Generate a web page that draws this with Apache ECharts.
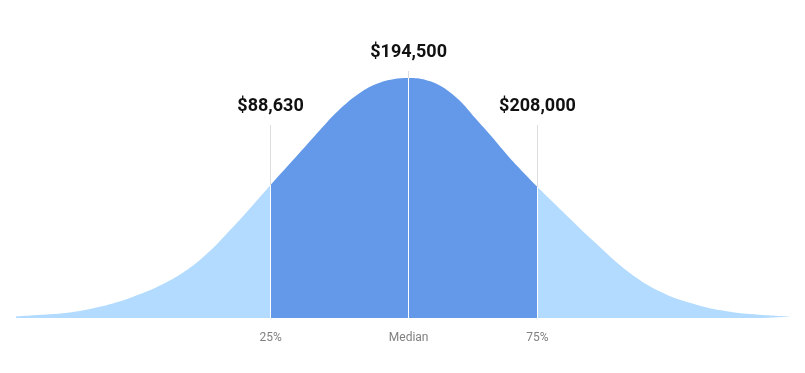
<!DOCTYPE html>
<html>
<head>
<meta charset="utf-8">
<script src="https://cdn.jsdelivr.net/npm/echarts@6/dist/echarts.min.js"></script>
<style>
html,body{margin:0;padding:0;background:#fff;}
#chart{width:805px;height:373px;}
</style>
</head>
<body>
<div id="chart"></div>
<script>
// Curve: x = % of curve width (left end 0, right end 100), y = % of peak height
const curveX = [0, 2.2, 6.6, 10.8, 15.1, 19.5, 23.7, 28.0, 32.8, 35.7, 37.9, 40.0, 42.2, 44.3, 46.5, 48.6, 50.6,
                52.8, 54.9, 57.1, 59.2, 61.4, 63.5, 65.7, 67.2, 70.5, 74.9, 79.1, 83.4, 87.8, 92.0, 96.3, 100];
const curveY = [0.6, 1.1, 2.2, 4.7, 8.9, 15.1, 24.2, 38.0, 55.4, 65.8, 73.8, 81.3, 88.4, 93.8, 97.6, 99.5, 100,
                99.2, 96.4, 90.8, 83.2, 75.2, 67.2, 59.6, 54.6, 44.2, 30.6, 18.8, 10.4, 5.4, 2.6, 1.25, 0.6];

// Marker lines: position, curve height there, top of the guide line
const markerX     = [32.8, 50.6, 67.2];
const markerCurve = [55.4, 100, 54.6];
const markerTop   = [80.4, 102.9, 80.4];
const valueLabels = ['$88,630', '$194,500', '$208,000'];
const tickLabels  = ['25%', 'Median', '75%'];

const LIGHT = '#B2DBFF';
const DARK = '#6399E8';

const markData = [];
markerX.forEach((x, i) => {
  markData.push([
    { coord: [x, 0], lineStyle: { color: '#dddddd', width: 1, type: 'solid' },
      label: { show: true, position: 'end', formatter: valueLabels[i], distance: 10,
               fontFamily: 'Roboto', fontWeight: 'bold', fontSize: 18, color: '#111' } },
    { coord: [x, markerTop[i]] }
  ]);
});
markerX.forEach((x, i) => {
  markData.push([
    { coord: [x, 0], lineStyle: { color: '#ffffff', width: 1, type: 'solid' },
      label: { show: true, position: 'start', formatter: tickLabels[i], distance: 14,
               fontFamily: 'Roboto', fontSize: 12, color: '#808080' } },
    { coord: [x, markerCurve[i]] }
  ]);
});

const chart = echarts.init(document.getElementById('chart'));
chart.setOption({
  animation: false,
  grid: { left: 16, right: 13, top: 54, bottom: 55 },
  xAxis: { type: 'value', min: 0, max: 100, show: false },
  yAxis: { type: 'value', min: 0, max: 110, show: false },
  visualMap: {
    show: false,
    type: 'piecewise',
    dimension: 0,
    seriesIndex: 0,
    pieces: [
      { lt: markerX[0], color: LIGHT },
      { gte: markerX[0], lte: markerX[2], color: DARK },
      { gt: markerX[2], color: LIGHT }
    ]
  },
  series: [{
    type: 'line',
    data: curveX.map((x, i) => [x, curveY[i]]),
    smooth: 0.4,
    showSymbol: false,
    silent: true,
    lineStyle: { width: 0 },
    areaStyle: { opacity: 1 },
    markLine: {
      silent: true,
      symbol: ['none', 'none'],
      animation: false,
      data: markData
    }
  }]
});
</script>
</body>
</html>
